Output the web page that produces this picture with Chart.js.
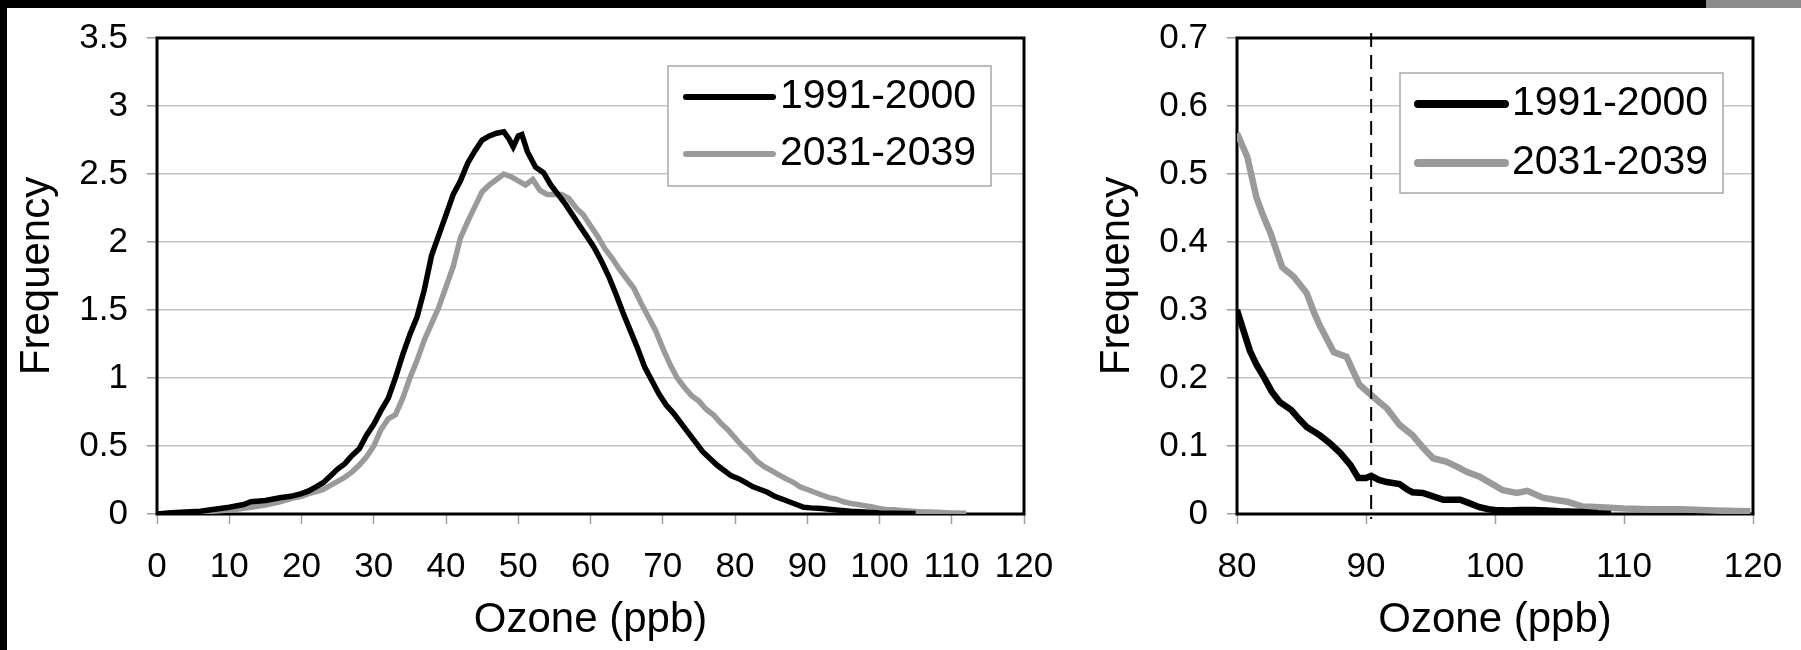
<!DOCTYPE html>
<html>
<head>
<meta charset="utf-8">
<script src="https://cdn.jsdelivr.net/npm/chart.js@4.4.0/dist/chart.umd.min.js"></script>
<style>
  html, body { margin: 0; padding: 0; background: #fff; }
  body { width: 1801px; height: 650px; position: relative; overflow: hidden; }
  #topBand { position: absolute; left: 0; top: 0; width: 1706px; height: 8px; background: #000; }
  #topBandEnd { position: absolute; left: 1706px; top: 0; width: 95px; height: 8px; background: #8c8c8c; }
  #leftBand { position: absolute; left: 0; top: 0; width: 7px; height: 650px; background: #000; }
  #fullChart { position: absolute; left: 7px; top: 8px; width: 1083px; height: 642px; }
  #tailChart { position: absolute; left: 1090px; top: 8px; width: 711px; height: 642px; }
</style>
</head>
<body>
<div id="topBand"></div>
<div id="topBandEnd"></div>
<div id="leftBand"></div>
<canvas id="fullChart" width="1083" height="642"></canvas>
<canvas id="tailChart" width="711" height="642"></canvas>
<script>
// series names
const seriesLabels = ['1991-2000', '2031-2039'];
const seriesColors = ['#000000', '#9a9a9a'];

// full distribution (left panel)
const fullBlackPpb = [0, 2, 4, 6, 8, 10, 12, 13, 15, 17, 18.5, 20, 21, 22, 23, 24, 25, 26, 27, 28, 29, 30, 31, 32, 33, 34, 35, 36, 37, 38, 39, 40, 41, 42, 43, 44, 45, 46, 47, 48, 48.7, 49.3, 50, 50.5, 51.3, 52.4, 53.5, 54.5, 55.5, 56.5, 57.5, 58.5, 59.5, 60.5, 61.5, 62.5, 63.5, 64.5, 65.5, 66.5, 67.5, 68.5, 69.5, 70.5, 71.5, 72.5, 73.5, 74.5, 75.5, 76.5, 77.5, 78.5, 79.5, 80.5, 81.5, 82.5, 83.5, 84.5, 85.5, 86.5, 87.5, 88.5, 89.5, 90.5, 92, 94, 96, 98, 100, 102, 105];
const fullBlackFreq = [0, 0.01, 0.015, 0.02, 0.035, 0.05, 0.07, 0.09, 0.10, 0.12, 0.13, 0.15, 0.17, 0.20, 0.23, 0.28, 0.33, 0.37, 0.43, 0.48, 0.58, 0.66, 0.76, 0.85, 1.00, 1.17, 1.32, 1.45, 1.65, 1.90, 2.05, 2.20, 2.35, 2.45, 2.58, 2.67, 2.75, 2.78, 2.80, 2.81, 2.76, 2.70, 2.78, 2.79, 2.66, 2.55, 2.51, 2.42, 2.35, 2.28, 2.20, 2.12, 2.04, 1.96, 1.86, 1.75, 1.62, 1.48, 1.35, 1.22, 1.08, 0.98, 0.88, 0.80, 0.74, 0.67, 0.60, 0.53, 0.46, 0.41, 0.36, 0.32, 0.28, 0.26, 0.23, 0.20, 0.18, 0.16, 0.13, 0.11, 0.09, 0.07, 0.05, 0.045, 0.04, 0.03, 0.02, 0.015, 0.008, 0.005, 0.003];
const fullGrayPpb = [0, 3, 6, 9, 11, 13, 15, 17, 19, 20, 21, 22, 23, 24, 25, 26, 27, 28, 29, 30, 31, 32, 33, 34, 35, 36, 37, 38, 39, 40, 41, 42, 43, 44, 45, 46, 47, 48, 49, 50, 51, 52, 53, 54, 55, 56, 57, 58, 59, 60, 61, 62, 63, 64, 65, 66, 67, 68, 69, 70, 71, 72, 73, 74, 75, 76, 77, 78, 79, 80, 81, 82, 83, 84, 85, 86, 87, 88, 89, 90, 91, 92, 93, 94, 95, 96, 97, 98, 99, 100, 101, 102, 103, 104, 105, 106, 107, 108, 110, 112];
const fullGrayFreq = [0, 0.01, 0.015, 0.025, 0.035, 0.05, 0.065, 0.09, 0.12, 0.13, 0.15, 0.165, 0.18, 0.21, 0.24, 0.27, 0.31, 0.36, 0.42, 0.50, 0.62, 0.70, 0.73, 0.85, 1.00, 1.13, 1.28, 1.40, 1.52, 1.67, 1.82, 2.03, 2.15, 2.26, 2.37, 2.42, 2.46, 2.50, 2.48, 2.45, 2.42, 2.46, 2.38, 2.35, 2.35, 2.35, 2.32, 2.25, 2.20, 2.12, 2.04, 1.95, 1.88, 1.80, 1.73, 1.66, 1.55, 1.45, 1.35, 1.22, 1.10, 1.00, 0.93, 0.87, 0.83, 0.77, 0.73, 0.67, 0.62, 0.56, 0.50, 0.45, 0.39, 0.35, 0.32, 0.29, 0.26, 0.235, 0.20, 0.18, 0.16, 0.14, 0.12, 0.11, 0.09, 0.078, 0.07, 0.06, 0.052, 0.04, 0.032, 0.032, 0.025, 0.022, 0.018, 0.015, 0.015, 0.012, 0.008, 0.006];

// upper tail (right panel)
const tailBlackPpb = [80, 80.5, 81, 81.5, 82, 82.7, 83.3, 84.2, 84.8, 85.4, 86.4, 87.2, 88, 88.8, 89.4, 90, 90.4, 91, 91.6, 92.6, 93.2, 93.6, 94.4, 95.2, 96, 97.3, 98, 98.8, 99.5, 100, 101, 102, 103, 104, 105, 106.8, 108, 109];
const tailBlackFreq = [0.30, 0.27, 0.24, 0.22, 0.204, 0.18, 0.165, 0.153, 0.14, 0.128, 0.116, 0.104, 0.09, 0.072, 0.053, 0.053, 0.056, 0.05, 0.047, 0.044, 0.036, 0.032, 0.031, 0.026, 0.021, 0.021, 0.016, 0.01, 0.007, 0.006, 0.005, 0.006, 0.006, 0.005, 0.004, 0.003, 0.001, 0];
const tailGrayPpb = [80, 80.8, 81.5, 82, 82.6, 83.5, 84.4, 85.4, 86, 86.4, 87.5, 88.5, 89, 89.5, 90.4, 91, 91.6, 92.6, 93.6, 94.4, 95.2, 96.2, 97, 97.8, 98.8, 99.7, 100.6, 101.7, 102.5, 103.7, 104.6, 105.6, 106.8, 108.2, 110, 112, 114.4, 117, 119.8];
const tailGrayFreq = [0.56, 0.525, 0.466, 0.44, 0.413, 0.363, 0.349, 0.325, 0.295, 0.278, 0.238, 0.231, 0.21, 0.19, 0.175, 0.165, 0.156, 0.131, 0.116, 0.098, 0.082, 0.077, 0.07, 0.062, 0.055, 0.045, 0.035, 0.031, 0.034, 0.024, 0.021, 0.018, 0.011, 0.01, 0.008, 0.007, 0.007, 0.005, 0.004];

// axes
const fullXTicks = [0, 10, 20, 30, 40, 50, 60, 70, 80, 90, 100, 110, 120];
const fullYTicks = [0, 0.5, 1, 1.5, 2, 2.5, 3, 3.5];
const tailXTicks = [80, 90, 100, 110, 120];
const tailYTicks = [0, 0.1, 0.2, 0.3, 0.4, 0.5, 0.6, 0.7];
const thresholdPpb = 90.4;

const xTitle = 'Ozone (ppb)';
const yTitle = 'Frequency';

Chart.defaults.font.family = "'Liberation Sans', Arial, sans-serif";
Chart.defaults.color = '#000';

const framePlugin = {
  id: 'frame',
  beforeDatasetsDraw(chart) {
    const {ctx, chartArea: a} = chart;
    ctx.save();
    ctx.strokeStyle = '#000';
    ctx.lineWidth = 3;
    ctx.strokeRect(a.left, a.top, a.right - a.left, a.bottom - a.top);
    ctx.restore();
  }
};

const thresholdPlugin = {
  id: 'threshold',
  afterDatasetsDraw(chart, args, opts) {
    const {ctx, chartArea: a} = chart;
    const x = chart.scales.x.getPixelForValue(opts.value);
    ctx.save();
    ctx.strokeStyle = '#000';
    ctx.lineWidth = 2;
    ctx.setLineDash([14, 8]);
    ctx.beginPath();
    ctx.moveTo(x, a.top - 5);
    ctx.lineTo(x, a.bottom + 5);
    ctx.stroke();
    ctx.restore();
  }
};

const boxLegendPlugin = {
  id: 'boxLegend',
  afterDraw(chart, args, opts) {
    const {ctx, chartArea: a} = chart;
    const left = a.right - opts.right - opts.width;
    const top = a.top + opts.top;
    ctx.save();
    ctx.fillStyle = '#fff';
    ctx.fillRect(left, top, opts.width, opts.height);
    ctx.strokeStyle = '#a8a8a8';
    ctx.lineWidth = 1.5;
    ctx.strokeRect(left, top, opts.width, opts.height);
    ctx.font = "41px 'Liberation Sans', Arial, sans-serif";
    ctx.textBaseline = 'middle';
    chart.data.datasets.forEach((ds, i) => {
      const y = top + opts.rows[i];
      ctx.strokeStyle = ds.borderColor;
      ctx.lineWidth = opts.lineWidth;
      ctx.lineCap = 'round';
      ctx.beginPath();
      ctx.moveTo(left + 18, y);
      ctx.lineTo(left + 105, y);
      ctx.stroke();
      ctx.fillStyle = '#000';
      ctx.fillText(ds.label, left + 112, y);
    });
    ctx.restore();
  }
};

function makeDataset(i, xs, ys, width) {
  return {
    label: seriesLabels[i],
    data: xs.map((x, k) => ({x: x, y: ys[k]})),
    borderColor: seriesColors[i],
    backgroundColor: seriesColors[i],
    borderWidth: width,
    pointRadius: 0,
    tension: 0,
    fill: false
  };
}

function makeOptions(cfg) {
  return {
    responsive: false,
    animation: false,
    events: [],
    layout: {padding: {top: 30, right: cfg.padRight, left: 0, bottom: 0}},
    plugins: {
      legend: {display: false},
      tooltip: {enabled: false},
      boxLegend: cfg.legend,
      threshold: {value: thresholdPpb}
    },
    scales: {
      x: {
        type: 'linear',
        min: cfg.xTicks[0],
        max: cfg.xTicks[cfg.xTicks.length - 1],
        afterBuildTicks: s => { s.ticks = cfg.xTicks.map(v => ({value: v})); },
        afterFit: s => { s.height = 136; s.paddingLeft = 0; s.paddingRight = 0; },
        grid: {drawOnChartArea: false, tickLength: 10, tickColor: '#a0a0a0', tickWidth: 1.5},
        border: {display: false},
        ticks: {font: {size: 35}, padding: 22, autoSkip: false, maxRotation: 0, callback: v => String(v)},
        title: {display: true, text: xTitle, font: {size: 42}, padding: {top: 0, bottom: 4}}
      },
      y: {
        min: 0,
        max: cfg.yTicks[cfg.yTicks.length - 1],
        afterBuildTicks: s => { s.ticks = cfg.yTicks.map(v => ({value: v})); },
        afterFit: s => { s.width = cfg.yWidth; s.paddingTop = 0; s.paddingBottom = 0; },
        grid: {color: '#c4c4c4', lineWidth: 1.5, tickLength: 10, tickColor: '#a0a0a0'},
        border: {display: false},
        ticks: {font: {size: 35}, padding: 19, autoSkip: false, callback: v => String(v)},
        title: {display: true, text: yTitle, font: {size: 42}, padding: {top: cfg.titlePad, bottom: 0}}
      }
    }
  };
}

new Chart(document.getElementById('fullChart'), {
  type: 'line',
  data: {
    datasets: [
      makeDataset(0, fullBlackPpb, fullBlackFreq, 5.5),
      makeDataset(1, fullGrayPpb, fullGrayFreq, 5.5)
    ]
  },
  options: makeOptions({
    xTicks: fullXTicks, yTicks: fullYTicks, yWidth: 150, padRight: 66, titlePad: 5,
    legend: {right: 33, top: 28, width: 323, height: 120, rows: [31, 88], lineWidth: 6}
  }),
  plugins: [framePlugin, boxLegendPlugin]
});

new Chart(document.getElementById('tailChart'), {
  type: 'line',
  data: {
    datasets: [
      makeDataset(0, tailBlackPpb, tailBlackFreq, 6.5),
      makeDataset(1, tailGrayPpb, tailGrayFreq, 6.5)
    ]
  },
  options: makeOptions({
    xTicks: tailXTicks, yTicks: tailYTicks, yWidth: 147, padRight: 48, titlePad: 2,
    legend: {right: 30, top: 35, width: 323, height: 120, rows: [31, 90], lineWidth: 8}
  }),
  plugins: [framePlugin, thresholdPlugin, boxLegendPlugin]
});
</script>
</body>
</html>
